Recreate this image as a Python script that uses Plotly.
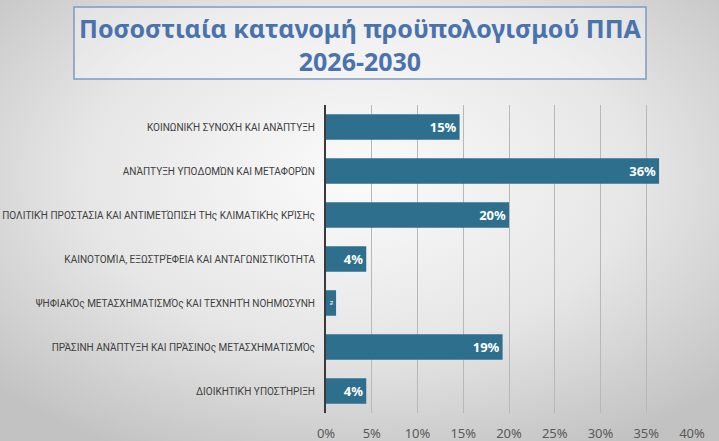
import base64
import plotly.graph_objs as go

categories = [
    'ΚΟΙΝΩΝΙΚΉ ΣΥΝΟΧΉ ΚΑΙ ΑΝΆΠΤΥΞΗ',
    'ΑΝΆΠΤΥΞΗ ΥΠΟΔΟΜΏΝ ΚΑΙ ΜΕΤΑΦΟΡΏΝ',
    'ΠΟΛΙΤΙΚΉ ΠΡΟΣΤΑΣΙΑ ΚΑΙ ΑΝΤΙΜΕΤΏΠΙΣΗ ΤΗς ΚΛΙΜΑΤΙΚΉς ΚΡΊΣΗς',
    'ΚΑΙΝΟΤΟΜΊΑ, ΕΞΩΣΤΡΈΦΕΙΑ ΚΑΙ ΑΝΤΑΓΩΝΙΣΤΙΚΌΤΗΤΑ',
    'ΨΗΦΙΑΚΌς ΜΕΤΑΣΧΗΜΑΤΙΣΜΌς ΚΑΙ ΤΕΧΝΗΤΉ ΝΟΗΜΟΣΥΝΗ',
    'ΠΡΆΣΙΝΗ ΑΝΆΠΤΥΞΗ ΚΑΙ ΠΡΆΣΙΝΟς ΜΕΤΑΣΧΗΜΑΤΙΣΜΌς',
    'ΔΙΟΙΚΗΤΙΚΉ ΥΠΟΣΤΉΡΙΞΗ',
]
shares = [14.6, 36.4, 20.0, 4.4, 1.1, 19.3, 4.4]
share_labels = ['15%', '36%', '20%', '4%', '1%', '19%', '4%']
x_ticks = [0, 5, 10, 15, 20, 25, 30, 35, 40]
x_tick_labels = ['0%', '5%', '10%', '15%', '20%', '25%', '30%', '35%', '40%']

W, H = 719, 441
L, R, T, B = 326, 27, 105, 28
PW, PH = W - L - R, H - T - B

# soft grey radial background like the slide
svg = f'''<svg xmlns="http://www.w3.org/2000/svg" width="{W}" height="{H}">
<defs><radialGradient id="g" cx="0.5" cy="0.4" r="0.7">
<stop offset="0" stop-color="#fbfbfb"/><stop offset="0.55" stop-color="#e6e6e6"/>
<stop offset="1" stop-color="#c2c2c2"/></radialGradient></defs>
<rect width="{W}" height="{H}" fill="url(#g)"/></svg>'''
bg_uri = 'data:image/svg+xml;base64,' + base64.b64encode(svg.encode()).decode()


def px(x):
    return (x - L) / PW


def py(y):
    return (H - B - y) / PH


fig = go.Figure()
fig.add_trace(go.Bar(
    x=shares, y=categories, orientation='h',
    marker=dict(color='#2f6f8e', line=dict(width=0)),
    text=share_labels, textposition='inside', insidetextanchor='end',
    textfont=dict(family='Noto Sans', size=13, color='white', weight='bold'),
    width=0.58, hoverinfo='skip',
))

fig.update_layout(
    width=W, height=H,
    margin=dict(l=L, r=R, t=T, b=B, autoexpand=False),
    paper_bgcolor='#e2e2e2',
    plot_bgcolor='rgba(0,0,0,0)',
    showlegend=False,
    images=[dict(source=bg_uri, xref='paper', yref='paper', x=px(0), y=py(0),
                 sizex=W / PW, sizey=H / PH, xanchor='left', yanchor='top',
                 sizing='stretch', layer='below')],
    shapes=[dict(type='rect', xref='paper', yref='paper',
                 x0=px(74), x1=px(646), y0=py(79), y1=py(7),
                 line=dict(color='#7d9cc2', width=1.5),
                 fillcolor='rgba(255,255,255,0.35)', layer='below')],
    annotations=[dict(text='Ποσοστιαία κατανομή προϋπολογισμού ΠΠΑ<br>2026-2030',
                      xref='paper', yref='paper', x=px(360), y=py(44),
                      xanchor='center', yanchor='middle', showarrow=False,
                      font=dict(family='Noto Sans', size=25, color='#4a73ad', weight='bold'))],
)

fig.update_xaxes(
    range=[0, 40], tickvals=x_ticks, ticktext=x_tick_labels, automargin=False,
    showgrid=True, gridcolor='#b8b8b8', gridwidth=1, zeroline=False,
    ticks='outside', ticklen=8, tickcolor='rgba(0,0,0,0)',
    tickfont=dict(family='Noto Sans', size=13, color='#595959'),
    fixedrange=True,
)
fig.update_yaxes(
    autorange='reversed', showline=True, linecolor='#3a3a3a', linewidth=2, automargin=False,
    showgrid=False, ticks='outside', ticklen=7, tickcolor='rgba(0,0,0,0)',
    tickfont=dict(family='Roboto, Noto Sans, sans-serif', size=10, color='#404040'),
    fixedrange=True,
)

fig.write_html('out.html', config={'displayModeBar': False},
               post_script="document.body.style.margin='0';")
